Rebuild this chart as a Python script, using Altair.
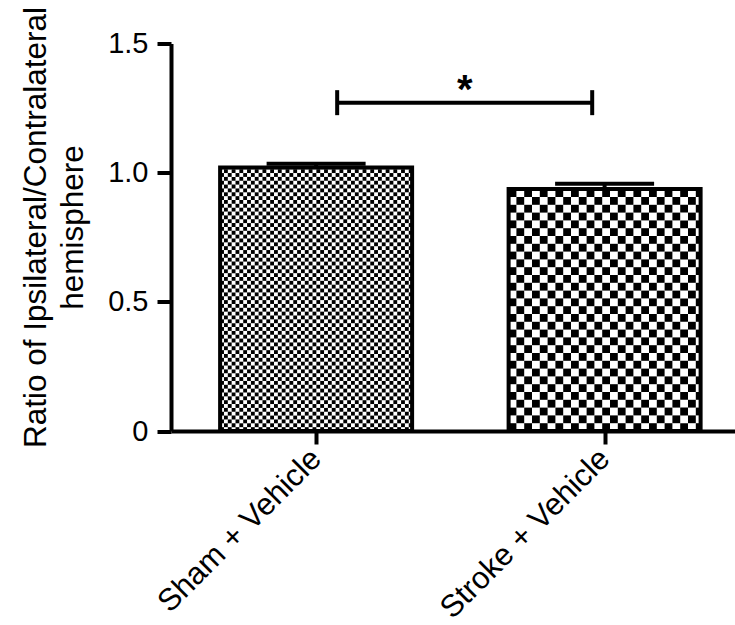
import math
import altair as alt
import pandas as pd

# ---- data ----
groups = ["Sham + Vehicle", "Stroke + Vehicle"]
means = [1.02, 0.937]
sems = [0.015, 0.02]
sig_y = 1.271
sig_label = "*"
y_ticks = [0, 0.5, 1.0, 1.5]
y_title = ["Ratio of Ipsilateral/Contralateral", "hemisphere"]

# ---- layout / style ----
W, H = 564, 387.5
PAD_L, PAD_T = 171, 43.5
PAD_B = 625 - PAD_T - H
pos = [1, 2]
x_domain = [0.497, 2.452]
y_domain = [0, 1.5]
px_x = W / (x_domain[1] - x_domain[0])
px_y = H / (y_domain[1] - y_domain[0])
bar_hw = 96 / px_x
cap_hw = 49.5 / px_x
cell_px = {"Sham + Vehicle": 3.85, "Stroke + Vehicle": 7.8}
bracket_inset = [0.073, 0.043]
bracket_tick = 12.5 / px_y
FONT = "Liberation Sans"

df = pd.DataFrame({"group": groups, "pos": pos, "mean": means, "sem": sems})
df["top"] = df["mean"] + df["sem"]
df["cx"] = [cell_px[g] / px_x for g in groups]
df["cy"] = [cell_px[g] / px_y for g in groups]

label_expr = " : ".join(
    f"datum.value == {p} ? '{g}'" for p, g in zip(pos, groups)
) + " : ''"

xs = alt.Scale(domain=x_domain, nice=False, zero=False)
ys = alt.Scale(domain=y_domain, nice=False, zero=False)

x_axis = alt.Axis(values=pos, labelExpr=label_expr, title=None)
y_axis = alt.Axis(
    values=y_ticks,
    labelExpr="datum.value == 0 ? '0' : format(datum.value, '.1f')",
    title=y_title,
)


def X(field, **kw):
    return alt.X(field, scale=xs, axis=x_axis, **kw)


def Y(field, **kw):
    return alt.Y(field, scale=ys, axis=y_axis, **kw)


base = alt.Chart(df)

outline = base.mark_rect(fillOpacity=0, stroke="black", strokeWidth=4).transform_calculate(
    x0=f"datum.pos - {bar_hw}", x1=f"datum.pos + {bar_hw}", y0="0"
).encode(
    x=X("x0:Q"), x2="x1:Q", y=Y("y0:Q"), y2="mean:Q",
)

checks = base.transform_calculate(
    ii=f"sequence(0, ceil(2 * {bar_hw} / datum.cx))"
).transform_flatten(["ii"]).transform_calculate(
    jj="sequence(0, ceil(datum.mean / datum.cy))"
).transform_flatten(["jj"]).transform_filter(
    "(datum.ii + datum.jj) % 2 == 0"
).transform_calculate(
    cx0=f"datum.pos - {bar_hw} + datum.ii * datum.cx",
    cx1=f"min(datum.pos - {bar_hw} + (datum.ii + 1) * datum.cx, datum.pos + {bar_hw})",
    cy0="datum.jj * datum.cy",
    cy1="min((datum.jj + 1) * datum.cy, datum.mean)",
).mark_rect(color="black", strokeWidth=0).encode(
    x=X("cx0:Q"), x2="cx1:Q", y=Y("cy0:Q"), y2="cy1:Q",
)

err_v = base.mark_rule(color="black", strokeWidth=4).encode(
    x=X("pos:Q"), y=Y("mean:Q"), y2="top:Q",
)
err_cap = base.mark_rule(color="black", strokeWidth=4).transform_calculate(
    c0=f"datum.pos - {cap_hw}", c1=f"datum.pos + {cap_hw}"
).encode(
    x=X("c0:Q"), x2="c1:Q", y=Y("top:Q"),
)

sig_df = pd.DataFrame({
    "xa": [pos[0] + bracket_inset[0]],
    "xb": [pos[1] - bracket_inset[1]],
    "y": [sig_y],
    "label": [sig_label],
})
sig = alt.Chart(sig_df)
bracket_h = sig.mark_rule(color="black", strokeWidth=4).encode(
    x=X("xa:Q"), x2="xb:Q", y=Y("y:Q"),
)
bracket_ends = sig.transform_fold(["xa", "xb"], as_=["end", "xe"]).transform_calculate(
    ylo=f"datum.y - {bracket_tick}", yhi=f"datum.y + {bracket_tick}"
).mark_rule(color="black", strokeWidth=4).encode(
    x=X("xe:Q"), y=Y("ylo:Q"), y2="yhi:Q",
)
star = sig.transform_calculate(xm="(datum.xa + datum.xb) / 2").mark_text(
    font=FONT, fontSize=40, fontWeight="bold", color="black",
    align="center", baseline="alphabetic",
).encode(
    x=X("xm:Q"), y=Y("y:Q"), text="label:N",
)

chart = alt.layer(
    checks, outline, err_v, err_cap, bracket_h, bracket_ends, star
).properties(
    width=W, height=H,
    autosize=alt.AutoSizeParams(type="none"),
    padding={"left": PAD_L, "top": PAD_T, "right": 0, "bottom": PAD_B},
).configure(
    background="white"
).configure_view(
    stroke="transparent", strokeWidth=0
).configure_axis(
    grid=False, domainColor="black", domainWidth=4, tickColor="black", tickWidth=4,
    labelColor="black", labelFont=FONT, titleFont=FONT, titleColor="black",
    labelFlush=False, labelOverlap=False, labelLimit=0,
).configure_axisX(
    labelAngle=-45, labelAlign="right", labelBaseline="middle",
    labelFontSize=31, labelPadding=10, tickSize=13,
).configure_axisY(
    labelFontSize=29, labelPadding=9, tickSize=14,
    titleFontSize=31.5, titleFontWeight="normal",
    titleAngle=-90, titleAlign="center", titleBaseline="alphabetic",
    titleX=-126, titleY=183.5, titleLineHeight=37,
)

chart.save("out.html", embed_options={"renderer": "svg", "actions": False})
